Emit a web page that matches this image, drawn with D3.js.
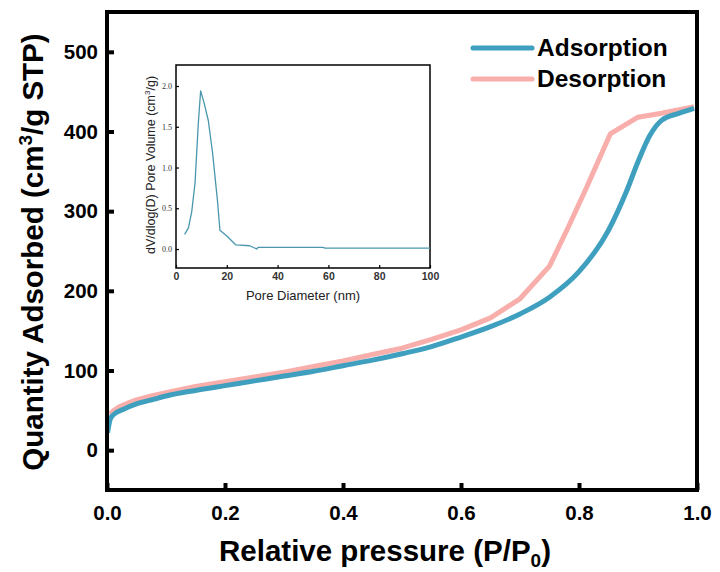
<!DOCTYPE html>
<html>
<head>
<meta charset="utf-8">
<script src="https://cdn.jsdelivr.net/npm/d3@7"></script>
<style>
  html, body { margin: 0; padding: 0; background: #fff; }
  svg { display: block; }
</style>
</head>
<body>
<svg id="chart" width="720" height="572"></svg>
<script>
// ---------- Data ----------
const adsP = [0.001, 0.005, 0.01, 0.03, 0.05, 0.08, 0.10, 0.15, 0.20, 0.25, 0.30, 0.35, 0.40, 0.45, 0.50, 0.55, 0.60, 0.65, 0.70, 0.75, 0.80, 0.85, 0.88, 0.90, 0.92, 0.94, 0.97, 0.995];
const adsV = [22, 38, 44, 52, 58, 64, 68, 75, 81, 87, 93, 99, 106, 113, 121, 130, 142, 155, 171, 192, 224, 276, 324, 362, 395, 414, 423, 429];
const desP = [0.005, 0.01, 0.02, 0.035, 0.05, 0.075, 0.10, 0.15, 0.20, 0.25, 0.30, 0.35, 0.40, 0.45, 0.50, 0.55, 0.60, 0.65, 0.70, 0.75, 0.78, 0.813, 0.853, 0.90, 0.94, 0.995];
const desV = [45, 49, 54, 59, 63, 68, 72, 80, 86, 92, 98, 105, 112, 120, 128, 139, 151, 166, 190, 231, 277, 330, 397, 418, 423, 431];
const seriesNames = ["Adsorption", "Desorption"];
const xTicks = [0, 0.2, 0.4, 0.6, 0.8, 1.0];
const yTicks = [0, 100, 200, 300, 400, 500];

// inset: pore size distribution
const poreD = [3.4, 4.9, 6.2, 7.5, 8.8, 9.7, 11.0, 12.7, 14.4, 16.3, 17.3, 20.0, 23.6, 29.0, 31.8, 32.3, 57.8, 58.7, 100];
const poreV = [0.18, 0.26, 0.46, 0.81, 1.55, 1.94, 1.80, 1.58, 1.18, 0.60, 0.23, 0.16, 0.05, 0.04, 0.00, 0.02, 0.02, 0.01, 0.01];
const insetXTicks = [0, 20, 40, 60, 80, 100];
const insetYTicks = [0.0, 0.5, 1.0, 1.5, 2.0];

// ---------- Setup ----------
const svg = d3.select("#chart");
const sans = "'Liberation Sans', Arial, sans-serif";
const serif = "'Liberation Serif', 'Times New Roman', serif";
const blue = "#3f9fbf";
const pink = "#f8aeaa";

const x = d3.scaleLinear().domain([0, 1]).range([107, 697]);
const y = d3.scaleLinear().domain([-50, 550]).range([490, 12]);

// axes (ticks inward)
const xAxis = d3.axisBottom(x).tickValues(xTicks).tickSizeInner(-7).tickSizeOuter(0).tickPadding(15)
  .tickFormat(d3.format(".1f"));
const gx = svg.append("g").attr("transform", `translate(0,${y.range()[0]})`).call(xAxis);
gx.select(".domain").remove();
gx.selectAll(".tick line").attr("stroke", "#000").attr("stroke-width", 4);
gx.selectAll(".tick text").attr("font-family", sans).attr("font-weight", "bold").attr("font-size", 20.5).attr("fill", "#000");

const yAxis = d3.axisLeft(y).tickValues(yTicks).tickSizeInner(-7).tickSizeOuter(0).tickPadding(9);
const gy = svg.append("g").attr("transform", `translate(${x.range()[0]},0)`).call(yAxis);
gy.select(".domain").remove();
gy.selectAll(".tick line").attr("stroke", "#000").attr("stroke-width", 4);
gy.selectAll(".tick text").attr("font-family", sans).attr("font-weight", "bold").attr("font-size", 20.5).attr("fill", "#000");

// lines
const lineSmooth = d3.line().x(d => x(d[0])).y(d => y(d[1])).curve(d3.curveMonotoneX);
const lineStraight = d3.line().x(d => x(d[0])).y(d => y(d[1]));
const desData = desP.map((p, i) => [p, desV[i]]);
const adsData = adsP.map((p, i) => [p, adsV[i]]);
svg.append("clipPath").attr("id", "mainclip").append("rect")
  .attr("x", x(0)).attr("y", y(550)).attr("width", x(1) - x(0)).attr("height", y(-50) - y(550));
const plot = svg.append("g").attr("clip-path", "url(#mainclip)");
plot.append("path").datum(desData).attr("d", lineStraight).attr("fill", "none")
  .attr("stroke", pink).attr("stroke-width", 5).attr("stroke-linejoin", "round");
plot.append("path").datum(adsData).attr("d", lineSmooth).attr("fill", "none")
  .attr("stroke", blue).attr("stroke-width", 5).attr("stroke-linejoin", "round");

// frame
svg.append("rect").attr("x", x(0)).attr("y", y(550)).attr("width", x(1) - x(0)).attr("height", y(-50) - y(550))
  .attr("fill", "none").attr("stroke", "#000").attr("stroke-width", 4);

// axis titles
const xt = svg.append("text").attr("x", 385).attr("y", 561).attr("text-anchor", "middle")
  .attr("font-family", sans).attr("font-weight", "bold").attr("font-size", 29.5).attr("fill", "#000");
xt.append("tspan").text("Relative pressure (P/P");
xt.append("tspan").text("0").attr("font-size", 19).attr("dy", 6);
xt.append("tspan").text(")").attr("dy", -6);

const yt = svg.append("text").attr("transform", "translate(43,252) rotate(-90)").attr("text-anchor", "middle")
  .attr("font-family", sans).attr("font-weight", "bold").attr("font-size", 29.5).attr("fill", "#000");
yt.append("tspan").text("Quantity Adsorbed (cm");
yt.append("tspan").text("3").attr("font-size", 19).attr("dy", -11);
yt.append("tspan").text("/g STP)").attr("dy", 11);

// legend
const legend = svg.append("g");
[[seriesNames[0], blue, 48], [seriesNames[1], pink, 79]].forEach(([name, col, ly]) => {
  legend.append("line").attr("x1", 473).attr("x2", 532).attr("y1", ly).attr("y2", ly)
    .attr("stroke", col).attr("stroke-width", 5).attr("stroke-linecap", "round");
  legend.append("text").attr("x", 537).attr("y", ly + 8).attr("font-family", sans).attr("font-weight", "bold")
    .attr("font-size", 24.5).attr("fill", "#000").text(name);
});

// ---------- Inset ----------
const ix = d3.scaleLinear().domain([0, 100]).range([176, 430]);
const iy = d3.scaleLinear().domain([-0.233, 2.258]).range([268, 65]);
const inset = svg.append("g");
inset.append("rect").attr("x", ix(0)).attr("y", iy.range()[1]).attr("width", ix(100) - ix(0))
  .attr("height", iy.range()[0] - iy.range()[1]).attr("fill", "#fff").attr("stroke", "#000").attr("stroke-width", 1.5);

const ixAxis = d3.axisBottom(ix).tickValues(insetXTicks).tickSizeInner(-3).tickSizeOuter(0).tickPadding(5);
const gix = inset.append("g").attr("transform", `translate(0,${iy.range()[0]})`).call(ixAxis);
gix.select(".domain").remove();
gix.selectAll(".tick line").attr("stroke", "#000").attr("stroke-width", 1.2);
gix.selectAll(".tick text").attr("font-family", sans).attr("font-weight", "bold").attr("font-size", 10.5).attr("fill", "#333");

const iyAxis = d3.axisLeft(iy).tickValues(insetYTicks).tickSizeInner(-3).tickSizeOuter(0).tickPadding(4)
  .tickFormat(d3.format(".1f"));
const giy = inset.append("g").attr("transform", `translate(${ix(0)},0)`).call(iyAxis);
giy.select(".domain").remove();
giy.selectAll(".tick line").attr("stroke", "#000").attr("stroke-width", 1.2);
giy.selectAll(".tick text").attr("font-family", serif).attr("font-size", 8).attr("fill", "#333");

const iline = d3.line().x(d => ix(d)).y((d, i) => iy(poreV[i]));
inset.append("path").datum(poreD).attr("d", iline).attr("fill", "none")
  .attr("stroke", "#4a97ad").attr("stroke-width", 1.3).attr("stroke-linejoin", "round");

inset.append("text").attr("x", 303).attr("y", 300).attr("text-anchor", "middle")
  .attr("font-family", sans).attr("font-size", 13).attr("fill", "#222").text("Pore Diameter (nm)");
const iyt = inset.append("text").attr("transform", "translate(155,165) rotate(-90)").attr("text-anchor", "middle")
  .attr("font-family", sans).attr("font-size", 12.5).attr("fill", "#222");
iyt.append("tspan").text("dV/dlog(D) Pore Volume (cm");
iyt.append("tspan").text("3").attr("font-size", 8).attr("dy", -5);
iyt.append("tspan").text("/g)").attr("dy", 5);
</script>
</body>
</html>
